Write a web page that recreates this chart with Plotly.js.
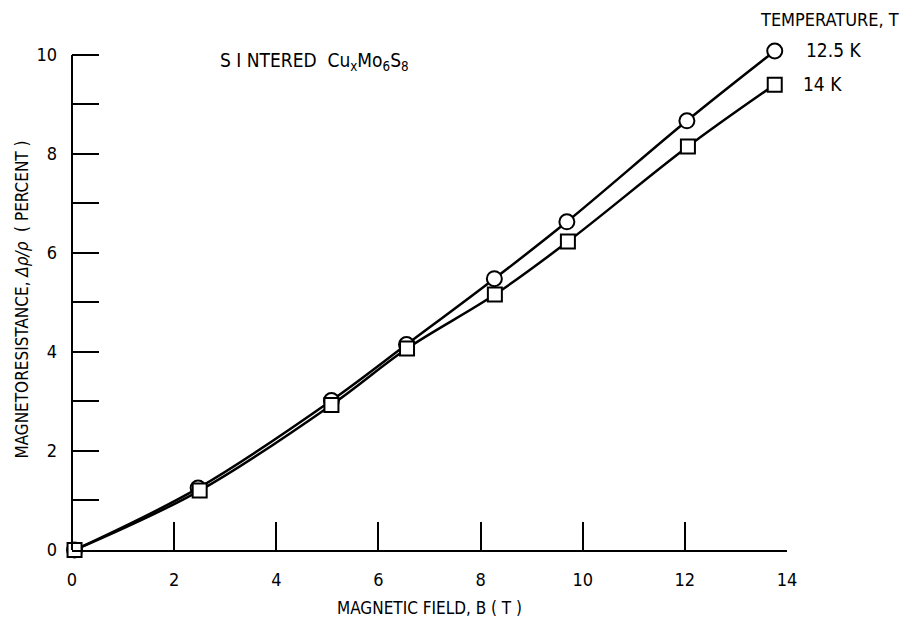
<!DOCTYPE html>
<html>
<head>
<meta charset="utf-8">
<script src="https://cdn.plot.ly/plotly-3.0.1.min.js"></script>
<style>html,body{margin:0;padding:0;background:#fff;}#chart{width:904px;height:619px;}</style>
</head>
<body>
<div id="chart"></div>
<script>
// Data
const fieldT125 = [0.05, 2.47, 5.08, 6.55, 8.27, 9.69, 12.04, 13.76];
const mr125     = [0.0, 1.25, 3.02, 4.15, 5.48, 6.63, 8.67, 10.08];
const fieldT14  = [0.05, 2.5, 5.08, 6.56, 8.28, 9.71, 12.06, 13.76];
const mr14      = [0.0, 1.2, 2.93, 4.07, 5.16, 6.23, 8.15, 9.4];
const xTicks = [0, 2, 4, 6, 8, 10, 12, 14];
const yMajorTicks = [0, 2, 4, 6, 8, 10];
const yMinorTicks = [1, 3, 5, 7, 9];
const seriesNames = ['12.5 K', '14 K'];

const FONT = '"DejaVu Sans Condensed", "Liberation Sans Narrow", "Liberation Sans", sans-serif';

const traces = [
  {
    x: fieldT125, y: mr125, name: seriesNames[0], type: 'scatter', mode: 'lines+markers',
    line: {color: '#000', width: 2.5, shape: 'spline', smoothing: 1},
    marker: {symbol: 'circle', size: 15, color: '#fff', line: {color: '#000', width: 2}},
    cliponaxis: false
  },
  {
    x: fieldT14, y: mr14, name: seriesNames[1], type: 'scatter', mode: 'lines+markers',
    line: {color: '#000', width: 2.5, shape: 'spline', smoothing: 1},
    marker: {symbol: 'square', size: 14, color: '#fff', line: {color: '#000', width: 2}},
    cliponaxis: false
  }
];

const layout = {
  width: 904, height: 619,
  margin: {l: 72, r: 117, t: 49, b: 69},
  paper_bgcolor: '#fff', plot_bgcolor: '#fff',
  showlegend: false,
  font: {family: FONT, size: 17, color: '#000'},
  xaxis: {
    range: [0, 14], tickvals: xTicks, ticktext: xTicks.map(String),
    ticks: 'inside', ticklen: 28, tickwidth: 2, tickcolor: '#000',
    showline: true, linecolor: '#000', linewidth: 2, showgrid: false, zeroline: false,
    ticklabelstandoff: 12,
    tickfont: {family: FONT, size: 18},
    title: {text: 'MAGNETIC FIELD, B ( T )', font: {family: FONT, size: 17}, standoff: 14}
  },
  yaxis: {
    range: [0, 10.12], tickvals: yMajorTicks, ticktext: yMajorTicks.map(String),
    ticks: 'inside', ticklen: 27, tickwidth: 2, tickcolor: '#000',
    minor: {tickvals: yMinorTicks, ticks: 'inside', ticklen: 27, tickwidth: 2, tickcolor: '#000', showgrid: false},
    showline: false, showgrid: false, zeroline: false,
    ticklabelstandoff: 14,
    tickfont: {family: FONT, size: 18},
    title: {text: 'MAGNETORESISTANCE, <i>Δρ/ρ</i>  ( PERCENT )', font: {family: FONT, size: 17}, standoff: 3}
  },
  shapes: [
    {type: 'line', xref: 'paper', yref: 'y', x0: 0, x1: 0, y0: 0, y1: 10,
     line: {color: '#000', width: 2}, layer: 'above'}
  ],
  annotations: [
    {xref: 'x', yref: 'y', x: 2.86, y: 9.86, xanchor: 'left', yanchor: 'middle', showarrow: false,
     text: 'S I NTERED  Cu<sub>x</sub>Mo<sub>6</sub>S<sub>8</sub>', font: {family: FONT, size: 19}},
    {xref: 'paper', yref: 'paper', x: 1.16, y: 1.058, xanchor: 'right', yanchor: 'middle', showarrow: false,
     text: 'TEMPERATURE, T', font: {family: FONT, size: 18}},
    {xref: 'paper', yref: 'paper', x: 1.024, y: 0.998, xanchor: 'left', yanchor: 'middle', showarrow: false,
     text: seriesNames[0], font: {family: FONT, size: 19}},
    {xref: 'paper', yref: 'paper', x: 1.02, y: 0.930, xanchor: 'left', yanchor: 'middle', showarrow: false,
     text: seriesNames[1], font: {family: FONT, size: 19}}
  ]
};

Plotly.newPlot('chart', traces, layout, {displayModeBar: false, staticPlot: true});
</script>
</body>
</html>
